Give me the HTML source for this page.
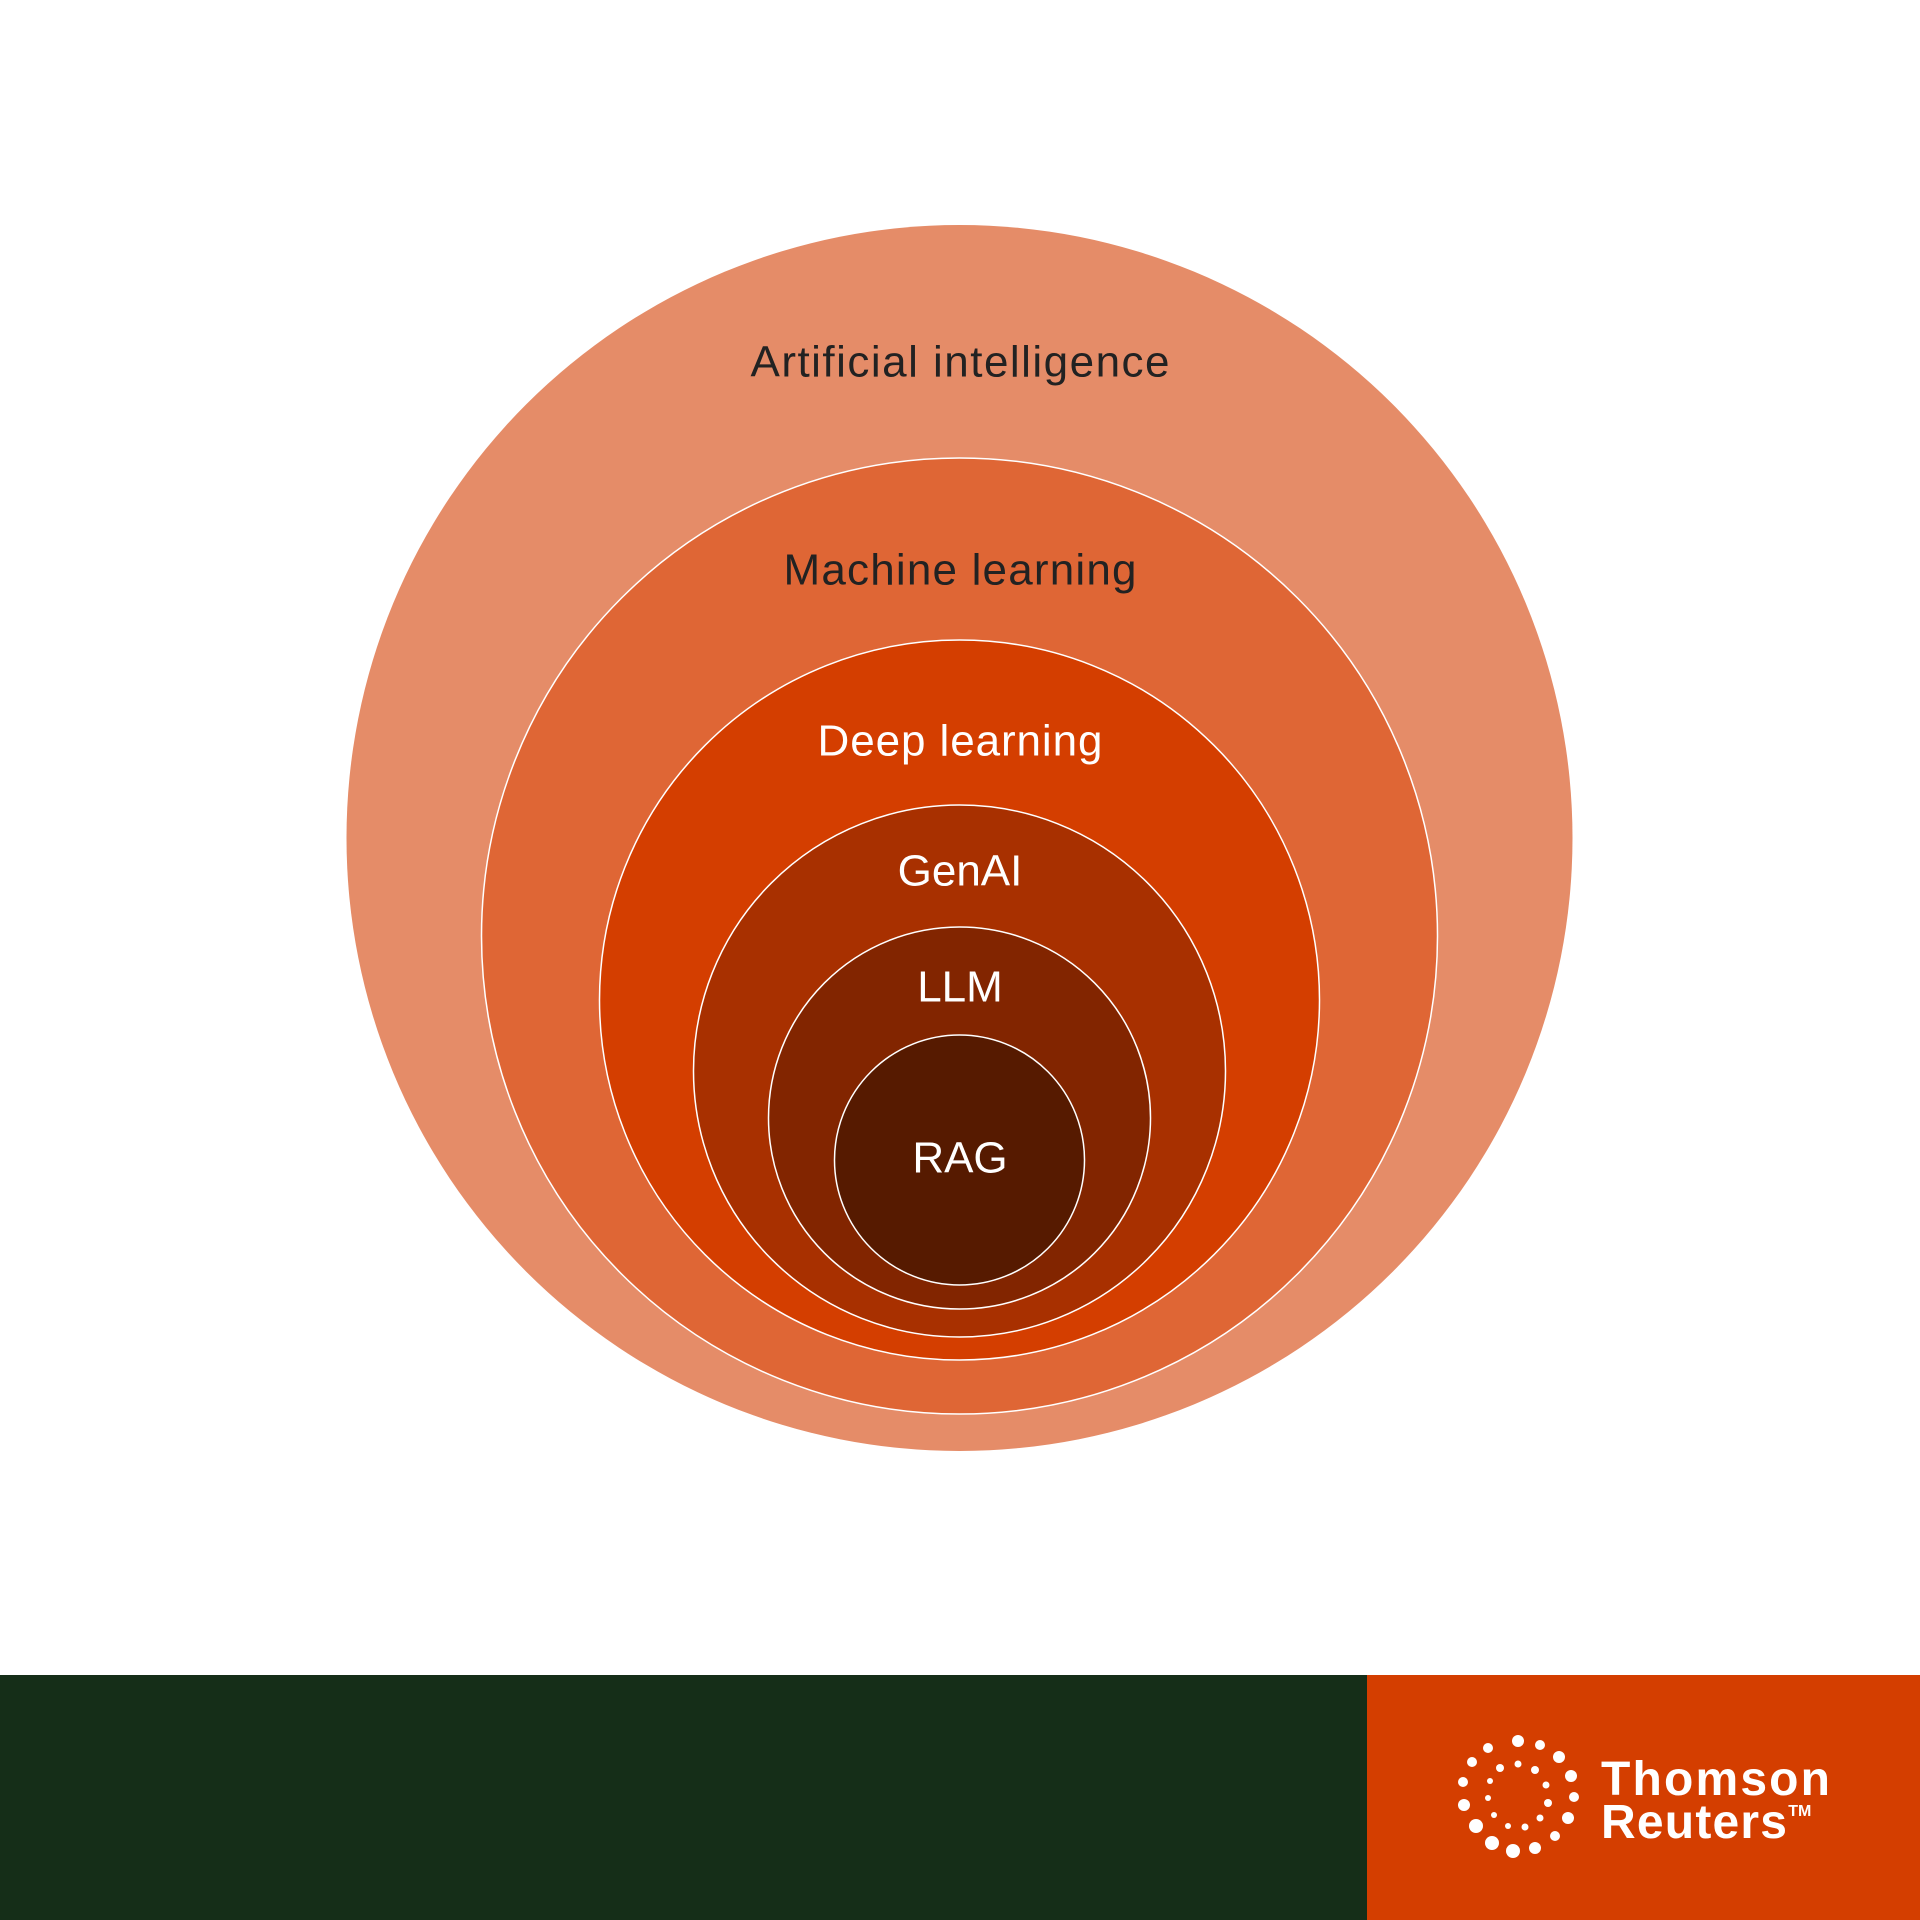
<!DOCTYPE html>
<html><head><meta charset="utf-8"><style>
html,body{margin:0;padding:0;background:#fff;}
svg{display:block}
</style></head><body>
<svg width="1920" height="1920" viewBox="0 0 1920 1920" xmlns="http://www.w3.org/2000/svg">
<rect width="1920" height="1920" fill="#ffffff"/>
<g stroke="#ffffff" stroke-width="1.5">
<circle cx="959.5" cy="838" r="613" fill="#e58c68" stroke="none"/>
<circle cx="959.5" cy="936" r="478" fill="#df6635"/>
<circle cx="959.5" cy="1000" r="360" fill="#d43e00"/>
<circle cx="959.5" cy="1071" r="266" fill="#a83000"/>
<circle cx="959.5" cy="1118" r="191" fill="#822500"/>
<circle cx="959.5" cy="1160" r="125" fill="#561a00"/>
</g>
<g font-family="Liberation Sans, sans-serif" font-size="44" text-anchor="middle" dominant-baseline="central">
<text x="960" y="362" fill="#222" textLength="419" lengthAdjust="spacing">Artificial intelligence</text>
<text x="960" y="570" fill="#222" textLength="353" lengthAdjust="spacing">Machine learning</text>
<text x="960" y="741" fill="#fff" textLength="285" lengthAdjust="spacing">Deep learning</text>
<text x="960" y="871" fill="#fff">GenAI</text>
<text x="960" y="987" fill="#fff">LLM</text>
<text x="960" y="1158" fill="#fff">RAG</text>
</g>
<rect x="0" y="1675" width="1367" height="245" fill="#152e18"/>
<rect x="1367" y="1675" width="553" height="245" fill="#d43e00"/>
<g fill="#fff">
<circle cx="1518" cy="1741" r="6"/><circle cx="1540" cy="1745" r="5"/><circle cx="1559" cy="1757" r="6"/>
<circle cx="1571" cy="1776" r="6"/><circle cx="1574" cy="1797" r="5"/><circle cx="1568" cy="1818" r="6"/>
<circle cx="1555" cy="1836" r="5"/><circle cx="1535" cy="1848" r="6"/><circle cx="1513" cy="1851" r="7"/>
<circle cx="1492" cy="1843" r="7"/><circle cx="1476" cy="1826" r="7"/><circle cx="1464" cy="1805" r="6"/>
<circle cx="1463" cy="1782" r="5"/><circle cx="1472" cy="1762" r="5"/><circle cx="1488" cy="1748" r="5"/>
<circle cx="1500" cy="1768" r="4"/><circle cx="1518" cy="1764" r="3.5"/><circle cx="1535" cy="1770" r="4"/>
<circle cx="1546" cy="1785" r="3.5"/><circle cx="1548" cy="1803" r="4"/><circle cx="1540" cy="1818" r="3.5"/>
<circle cx="1525" cy="1827" r="3.5"/><circle cx="1508" cy="1826" r="3"/><circle cx="1494" cy="1815" r="3"/>
<circle cx="1488" cy="1798" r="3"/><circle cx="1490" cy="1781" r="3"/>
</g>
<g font-family="Liberation Sans, sans-serif" font-weight="bold" font-size="48" fill="#fff">
<text x="1601" y="1795" textLength="229" lengthAdjust="spacing">Thomson</text>
<text x="1601" y="1838"><tspan textLength="186" lengthAdjust="spacing">Reuters</tspan><tspan font-size="16" dy="-22">TM</tspan></text>
</g>
</svg>
</body></html>
